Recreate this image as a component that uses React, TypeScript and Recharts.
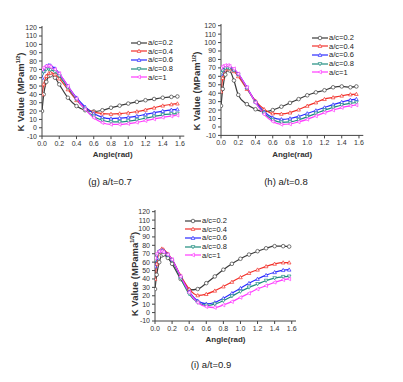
import React from "react";
import { LineChart, Line, XAxis, YAxis } from "recharts";

// ── data ─────────────────────────────────────────────────────────────────────
const angle = [0, 0.02, 0.05, 0.08, 0.1, 0.15, 0.2, 0.3, 0.4, 0.5, 0.6, 0.7, 0.8, 0.9, 1.0, 1.1, 1.2, 1.3, 1.4, 1.5, 1.57];

const SERIES = ["a/c=0.2", "a/c=0.4", "a/c=0.6", "a/c=0.8", "a/c=1"];
const COLORS = ["#3c3c3c", "#f2302a", "#2a2aff", "#1d8c7e", "#ff3cff"];
const SHAPES = ["circle", "tri", "tri", "tridown", "trileft"];

const xTicks = [0, 0.2, 0.4, 0.6, 0.8, 1.0, 1.2, 1.4, 1.6];
const yTicks = [-10, 0, 10, 20, 30, 40, 50, 60, 70, 80, 90, 100, 110, 120];

// (g) a/t=0.7
const g02 = [20, 40, 55, 62, 63, 60, 52, 36, 26, 21, 19.5, 21, 24, 26.5, 29, 31, 33, 34.5, 36, 37, 37.5];
const g04 = [40, 52, 62, 65.5, 66, 64, 59, 46, 33, 24, 19, 17, 16.5, 17, 18, 19.5, 21.5, 24, 26.5, 28, 29];
const g06 = [60, 68, 74, 75, 74.5, 71, 65, 50, 36, 25, 17, 12.5, 11, 11.5, 12.5, 14, 16, 18, 20, 21.5, 22];
const g08 = [64, 67, 70, 70, 69.5, 67, 62, 48, 34, 22, 13.5, 9, 7, 7, 8, 9.5, 11.5, 13.5, 15.5, 16.5, 17];
const g10 = [70, 72, 74, 74, 73, 70, 65, 50, 35, 22, 12, 6, 4, 4, 5, 6.5, 8.5, 10.5, 12.5, 14, 15];

// (h) a/t=0.8
const h02 = [25, 45, 62, 68, 67, 55, 38, 27, 21, 18, 20, 24, 28.5, 33, 37.5, 41, 43.5, 47, 48, 47, 48];
const h04 = [42, 58, 68, 70, 69, 66, 60, 45, 31, 21, 16, 15.5, 17, 20.5, 25, 29, 33, 35, 37, 38.5, 39];
const h06 = [63, 67, 71, 72, 71.5, 68, 63, 47, 30, 18, 11, 9, 10, 12.5, 16, 19.5, 23, 26.5, 29.5, 32, 33];
const h08 = [64, 67, 69.5, 70, 69.5, 67, 62, 46, 29, 16, 8.5, 5.5, 6, 8.5, 12, 16, 20, 23, 26, 28, 29];
const h10 = [70, 72, 73, 73, 72, 69, 63, 47, 29, 15, 6.5, 3, 3.5, 6, 9, 13, 17, 20, 23, 25, 26];

// (i) a/t=0.9
const i02 = [28, 45, 60, 68, 69, 65, 58, 40, 27, 28, 35, 43, 51, 58, 64, 69, 73, 76.5, 79, 79, 78.5];
const i04 = [40, 58, 72, 76, 75, 70, 63, 44, 28, 20.5, 22, 26, 31, 36.5, 42, 47, 51, 55, 58, 59.5, 59.5];
const i06 = [55, 65, 73, 74, 73.5, 69, 63, 43, 25, 14, 10.5, 12, 17, 23, 29, 35, 40, 44.5, 48, 50.5, 51];
const i08 = [62, 68, 72, 73, 72, 68, 62, 41, 22, 12, 8.5, 10, 14, 19.5, 25, 30, 34, 38, 41, 42.5, 43];
const i10 = [65, 70, 73, 73, 72, 69, 63, 43, 24, 12, 7, 6, 9, 13, 18, 23, 28, 32, 36, 39, 40];

const FONT = "'Liberation Sans', Arial, sans-serif";

function Marker({ shape, color, cx, cy, r = 1.8 }: { shape: string; color: string; cx: number; cy: number; r?: number }) {
  if (cx == null || cy == null) return null;
  if (shape === "circle") return <circle cx={cx} cy={cy} r={r} fill="#fff" stroke={color} strokeWidth={0.7} />;
  let pts = "";
  if (shape === "tri") pts = `${cx},${cy - r} ${cx - r},${cy + r * 0.8} ${cx + r},${cy + r * 0.8}`;
  else if (shape === "tridown") pts = `${cx},${cy + r} ${cx - r},${cy - r * 0.8} ${cx + r},${cy - r * 0.8}`;
  else pts = `${cx - r},${cy} ${cx + r * 0.8},${cy - r} ${cx + r * 0.8},${cy + r}`;
  return <polygon points={pts} fill="#fff" stroke={color} strokeWidth={0.7} />;
}

type PanelProps = {
  x0: number; y0: number; w: number; h: number;
  rows: number[][];
  legX: number; legY: number;
  unit: string;
  labX: number; labY: number;
  caption: string; capX: number; capY: number;
};

function Panel({ x0, y0, w, h, rows, legX, legY, unit, labX, labY, caption, capX, capY }: PanelProps) {
  const data = angle.map((a, i) => {
    const o: Record<string, number> = { a };
    rows.forEach((r, k) => { o["s" + k] = r[i]; });
    return o;
  });
  const padL = 30, padT = 4, padR = 6, padB = 16;

  return (
    <>
      <div style={{ position: "absolute", left: x0 - padL, top: y0 - padT }}>
        <LineChart width={w + padL + padR} height={h + padT + padB} data={data} margin={{ top: padT, right: padR, left: 0, bottom: 0 }}>
          <XAxis
            dataKey="a" type="number" domain={[0, 1.65]} ticks={xTicks} interval={0} allowDataOverflow
            tickFormatter={(v) => Number(v).toFixed(1)} height={padB} tickSize={3}
            tick={{ fontSize: 7, fill: "#333", fontFamily: FONT }} stroke="#444"
          />
          <XAxis xAxisId="top" orientation="top" type="number" domain={[0, 1.65]} height={0} tick={false} tickLine={false} stroke="#444" />
          <YAxis
            type="number" domain={[-10, 122]} ticks={yTicks} interval={0} allowDataOverflow width={padL} tickSize={3}
            tick={{ fontSize: 7, fill: "#333", fontFamily: FONT }} stroke="#444"
          />
          <YAxis yAxisId="right" orientation="right" type="number" domain={[-10, 122]} width={0} tick={false} tickLine={false} stroke="#444" />
          {rows.map((_, k) => (
            <Line
              key={k} dataKey={"s" + k} type="monotone" stroke={COLORS[k]} strokeWidth={1.2}
              isAnimationActive={false}
              dot={(p: any) => <Marker key={p.index} shape={SHAPES[k]} color={COLORS[k]} cx={p.cx} cy={p.cy} />}
            />
          ))}
        </LineChart>
      </div>

      {/* legend */}
      <div style={{ position: "absolute", left: legX, top: legY - 4.35 }}>
        {SERIES.map((s, i) => (
          <div key={s} style={{ display: "flex", alignItems: "center", height: 8.7 }}>
            <svg width={16} height={8}>
              <line x1={0} y1={4} x2={16} y2={4} stroke={COLORS[i]} strokeWidth={1.2} />
              <Marker shape={SHAPES[i]} color={COLORS[i]} cx={8} cy={4} />
            </svg>
            <span style={{ fontSize: 7.5, fontFamily: FONT, color: "#222", marginLeft: 1, lineHeight: 1 }}>{s}</span>
          </div>
        ))}
      </div>

      {/* axis titles and caption */}
      <div style={{ position: "absolute", left: x0 + w / 2 - 40, width: 80, top: y0 + h + 14, textAlign: "center", fontSize: 8, fontWeight: "bold", color: "#333", fontFamily: FONT }}>
        Angle(rad)
      </div>
      <div
        style={{
          position: "absolute", left: labX - 60, top: labY - 6, width: 120, height: 12, textAlign: "center",
          transform: "rotate(-90deg)", fontSize: 9.5, fontWeight: "bold", color: "#333", fontFamily: FONT, whiteSpace: "nowrap", lineHeight: "12px",
        }}
      >
        K Value (MPa{unit}<sup style={{ fontSize: 5.5, verticalAlign: "4px", lineHeight: 0 }}>1/2</sup>)
      </div>
      <div style={{ position: "absolute", left: capX - 50, width: 100, top: capY - 6, textAlign: "center", fontSize: 9.5, color: "#222", fontFamily: FONT }}>
        {caption}
      </div>
    </>
  );
}

export default function App() {
  return (
    <div style={{ position: "fixed", left: 0, top: 0, width: 403, height: 382, background: "#fff", fontFamily: FONT }}>
      <Panel
        x0={41.5} y0={25.6} w={142.3} h={110.1} rows={[g02, g04, g06, g08, g10]}
        legX={131} legY={42.7} unit="m" labX={21} labY={92}
        caption="(g) a/t=0.7" capX={110} capY={182}
      />
      <Panel
        x0={221} y0={24.3} w={142.3} h={111.4} rows={[h02, h04, h06, h08, h10]}
        legX={312} legY={37.7} unit="m" labX={197} labY={91}
        caption="(h) a/t=0.8" capX={286} capY={182}
      />
      <Panel
        x0={155} y0={210} w={141} h={111} rows={[i02, i04, i06, i08, i10]}
        legX={185} legY={220.7} unit="ma" labX={135} labY={274}
        caption="(i) a/t=0.9" capX={211} capY={365}
      />
    </div>
  );
}
